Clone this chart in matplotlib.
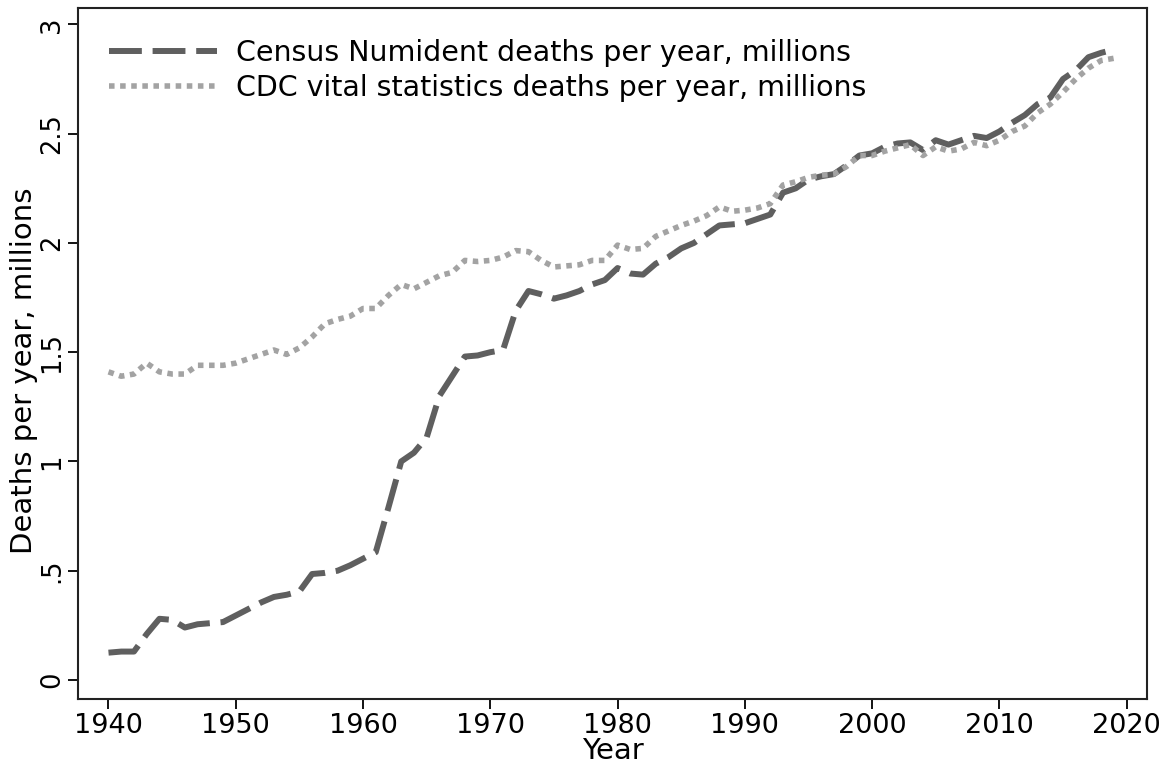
import numpy as np
import matplotlib
matplotlib.use("Agg")
import matplotlib.pyplot as plt

years = np.arange(1940, 2020)

# Census Numident deaths per year (millions)
census = [
    0.125, 0.13, 0.13, 0.21, 0.28, 0.275, 0.24, 0.255, 0.26, 0.265,
    0.295, 0.325, 0.355, 0.38, 0.39, 0.405, 0.485, 0.49, 0.50, 0.525,
    0.555, 0.585, 0.79, 1.00, 1.04, 1.11, 1.30, 1.39, 1.48, 1.485,
    1.50, 1.51, 1.69, 1.78, 1.765, 1.745, 1.76, 1.78, 1.81, 1.83,
    1.885, 1.86, 1.855, 1.905, 1.935, 1.975, 2.00, 2.04, 2.08, 2.085,
    2.09, 2.11, 2.13, 2.23, 2.25, 2.29, 2.305, 2.315, 2.355, 2.40,
    2.41, 2.44, 2.455, 2.46, 2.425, 2.47, 2.45, 2.47, 2.49, 2.48,
    2.51, 2.55, 2.585, 2.635, 2.665, 2.75, 2.79, 2.85, 2.87, 2.885,
]

# CDC vital statistics deaths per year (millions)
cdc = [
    1.41, 1.39, 1.40, 1.45, 1.41, 1.40, 1.40, 1.44, 1.44, 1.44,
    1.45, 1.47, 1.49, 1.51, 1.49, 1.52, 1.57, 1.63, 1.65, 1.665,
    1.70, 1.70, 1.76, 1.81, 1.79, 1.82, 1.85, 1.865, 1.92, 1.915,
    1.92, 1.935, 1.965, 1.96, 1.92, 1.89, 1.895, 1.90, 1.92, 1.92,
    1.99, 1.97, 1.975, 2.03, 2.055, 2.08, 2.10, 2.125, 2.165, 2.145,
    2.15, 2.16, 2.18, 2.265, 2.28, 2.30, 2.31, 2.315, 2.35, 2.40,
    2.40, 2.42, 2.435, 2.45, 2.40, 2.44, 2.42, 2.43, 2.46, 2.445,
    2.47, 2.51, 2.535, 2.595, 2.635, 2.69, 2.75, 2.80, 2.835, 2.845,
]

xticks = [1940, 1950, 1960, 1970, 1980, 1990, 2000, 2010, 2020]
yticks = [0, 0.5, 1, 1.5, 2, 2.5, 3]
ytick_labels = ["0", ".5", "1", "1.5", "2", "2.5", "3"]

plt.rcParams['font.family'] = ['DejaVu Sans']

fig = plt.figure(figsize=(11.74, 7.71), dpi=100)
ax = fig.add_axes([0.0664, 0.0934, 0.9106, 0.8962])

ax.plot(years, census, color='#5f5f5f', lw=4.3, dashes=(5.5, 1.8),
        label='Census Numident deaths per year, millions')
ax.plot(years, cdc, color='#a3a3a3', lw=4.0, dashes=(1.0, 1.0),
        label='CDC vital statistics deaths per year, millions')

ax.set_xlim(1937.6, 2021.6)
ax.set_ylim(-0.087, 3.075)
ax.set_xticks(xticks)
ax.set_yticks(yticks)
ax.set_yticklabels(ytick_labels, rotation=90, va='center')
ax.tick_params(axis='x', labelsize=19.5, pad=3)
ax.tick_params(axis='y', labelsize=18.5, pad=2)
ax.tick_params(axis='both', length=7, width=1.3, direction='out')

for s in ax.spines.values():
    s.set_linewidth(1.5)
    s.set_color('#222222')

ax.set_xlabel('Year', fontsize=21, labelpad=-1)
ax.set_ylabel('Deaths per year, millions', fontsize=21, labelpad=1)
ax.yaxis.label.set_y(0.475)

ax.legend(loc='upper left', frameon=False, fontsize=20.5, handlelength=3.8,
          handletextpad=0.65, borderaxespad=0.7, labelspacing=0.25)

fig.savefig('out.png', dpi=100)
